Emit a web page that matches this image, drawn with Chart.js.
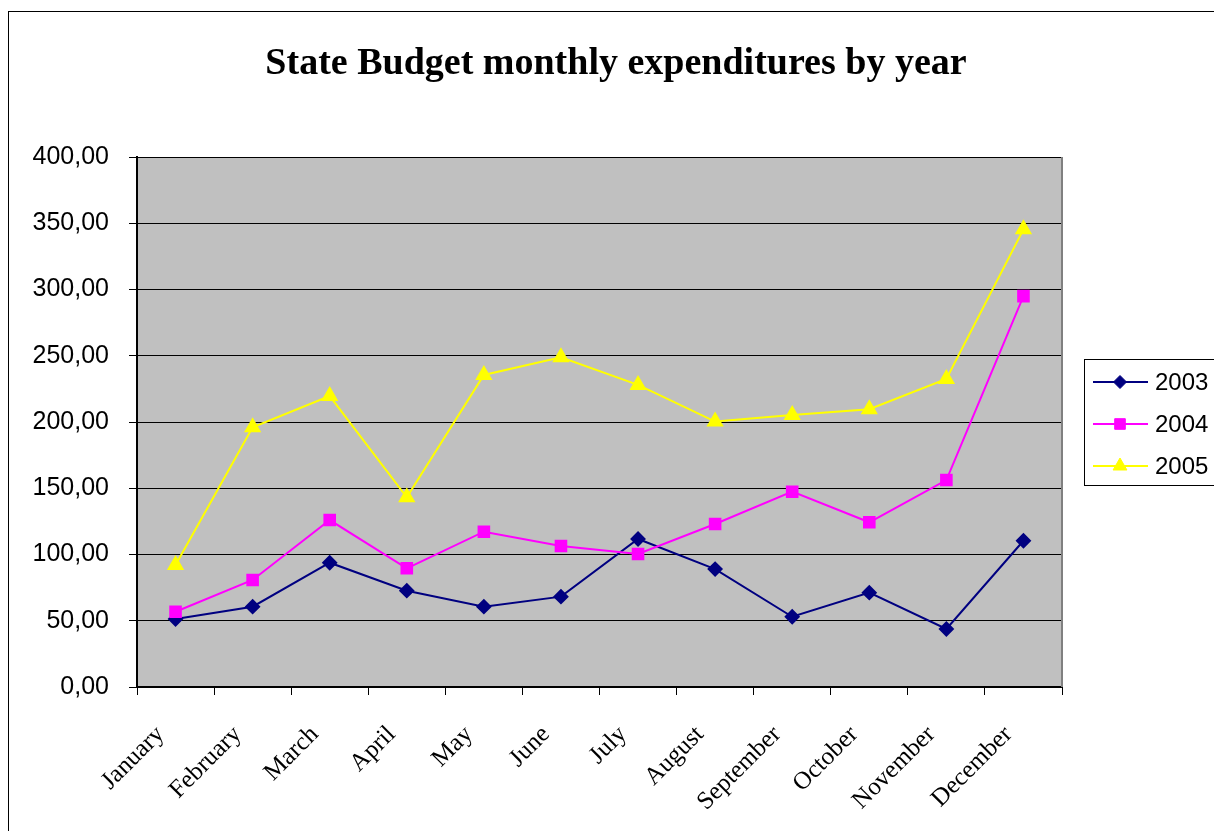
<!DOCTYPE html>
<html>
<head>
<meta charset="utf-8">
<title>State Budget monthly expenditures by year</title>
<script src="https://cdn.jsdelivr.net/npm/chart.js@4/dist/chart.umd.min.js"></script>
<style>
    html, body { margin: 0; padding: 0; background: #fff; overflow: hidden; }
    #wrap { width: 1214px; height: 831px; position: relative; }
</style>
</head>
<body>
<div id="wrap"><canvas id="budgetChart"></canvas></div>
<script>
// Monthly expenditures per year
const months = ["January", "February", "March", "April", "May", "June",
    "July", "August", "September", "October", "November", "December"];
const years = ["2003", "2004", "2005"];
const spend2003 = [51.3, 60.6, 93.8, 72.7, 60.6, 68.2, 111.7, 89.0, 53.0, 71.2, 43.8, 110.4];
const spend2004 = [56.8, 80.8, 126.0, 89.6, 117.2, 106.4, 100.4, 123.0, 147.4, 124.3, 156.2, 295.0];
const spend2005 = [92.0, 196.0, 219.6, 143.2, 235.5, 248.8, 228.0, 200.3, 205.3, 209.6, 232.5, 345.4];

const chartTitle = "State Budget monthly expenditures by year";

const seriesStyle = [
    { color: "#000080", point: "rectRot", radius: 6.5 },
    { color: "#FF00FF", point: "rect", radius: 7.5 },
    { color: "#FFFF00", point: "triangle", radius: 8 }
];

// Grey plot area, frame, title and the boxed legend on the right
const excelLook = {
    id: "excelLook",
    beforeDraw(chart) {
        const { ctx, chartArea: a } = chart;
        ctx.save();
        ctx.fillStyle = "#C0C0C0";
        ctx.fillRect(a.left, a.top, a.right - a.left, a.bottom - a.top);
        ctx.restore();
    },
    afterDraw(chart) {
        const { ctx, chartArea: a } = chart;
        ctx.save();

        // right edge of the plot area
        ctx.strokeStyle = "#808080";
        ctx.lineWidth = 2;
        ctx.beginPath();
        ctx.moveTo(a.right, a.top);
        ctx.lineTo(a.right, a.bottom);
        ctx.stroke();

        // outer frame
        ctx.strokeStyle = "#000";
        ctx.lineWidth = 1;
        ctx.strokeRect(8.5, 11.5, 1300, 900);

        // title
        ctx.fillStyle = "#000";
        ctx.font = "bold 38px 'Liberation Serif', 'Times New Roman', serif";
        ctx.textAlign = "center";
        ctx.textBaseline = "middle";
        ctx.fillText(chartTitle, 616, 64);

        // legend
        ctx.strokeRect(1084.5, 359.5, 160, 126);
        ctx.font = "24px 'Liberation Sans', Arial, sans-serif";
        ctx.textAlign = "left";
        chart.data.datasets.forEach((ds, i) => {
            const y = 382 + i * 42;
            ctx.strokeStyle = ds.borderColor;
            ctx.lineWidth = 2;
            ctx.beginPath();
            ctx.moveTo(1093, y);
            ctx.lineTo(1148, y);
            ctx.stroke();
            ctx.fillStyle = ds.pointBackgroundColor;
            ctx.strokeStyle = ds.pointBorderColor;
            ctx.lineWidth = 1;
            Chart.helpers.drawPoint(ctx, { pointStyle: ds.pointStyle, radius: ds.pointRadius, rotation: 0, borderWidth: 1 }, 1120, y);
            ctx.fillStyle = "#000";
            ctx.fillText(ds.label, 1155, y + 1);
        });
        ctx.restore();
    }
};

function buildDatasets() {
    const values = [spend2003, spend2004, spend2005];
    return years.map((year, i) => ({
        label: year,
        data: values[i],
        borderColor: seriesStyle[i].color,
        backgroundColor: seriesStyle[i].color,
        pointBackgroundColor: seriesStyle[i].color,
        pointBorderColor: seriesStyle[i].color,
        pointStyle: seriesStyle[i].point,
        pointRadius: seriesStyle[i].radius,
        borderWidth: 2,
        tension: 0,
        fill: false,
        order: years.length - i
    }));
}

const ctx = document.getElementById("budgetChart").getContext("2d");
new Chart(ctx, {
    type: "line",
    data: { labels: months, datasets: buildDatasets() },
    options: {
        responsive: true,
        maintainAspectRatio: false,
        animation: false,
        layout: { padding: { top: 157, right: 152, left: 0, bottom: 0 } },
        plugins: {
            legend: { display: false },
            title: { display: false },
            tooltip: { enabled: false }
        },
        scales: {
            x: {
                offset: true,
                grid: {
                    offset: true,
                    drawOnChartArea: false,
                    drawTicks: true,
                    tickLength: 8,
                    color: "#000"
                },
                border: { color: "#000", width: 2 },
                ticks: {
                    autoSkip: false,
                    maxRotation: 45,
                    minRotation: 45,
                    padding: 25,
                    labelOffset: -15,
                    color: "#000",
                    font: { family: "'Liberation Serif', 'Times New Roman', serif", size: 25 }
                },
                afterFit(scale) { scale.height = 144; }
            },
            y: {
                min: 0,
                max: 400,
                grid: { color: "#000", tickLength: 8, lineWidth: 1 },
                border: { color: "#000", width: 2 },
                ticks: {
                    stepSize: 50,
                    padding: 20,
                    color: "#000",
                    font: { family: "'Liberation Sans', Arial, sans-serif", size: 25 },
                    callback: v => v.toFixed(2).replace(".", ",")
                },
                afterFit(scale) { scale.width = 137; }
            }
        }
    },
    plugins: [excelLook]
});
</script>
</body>
</html>
